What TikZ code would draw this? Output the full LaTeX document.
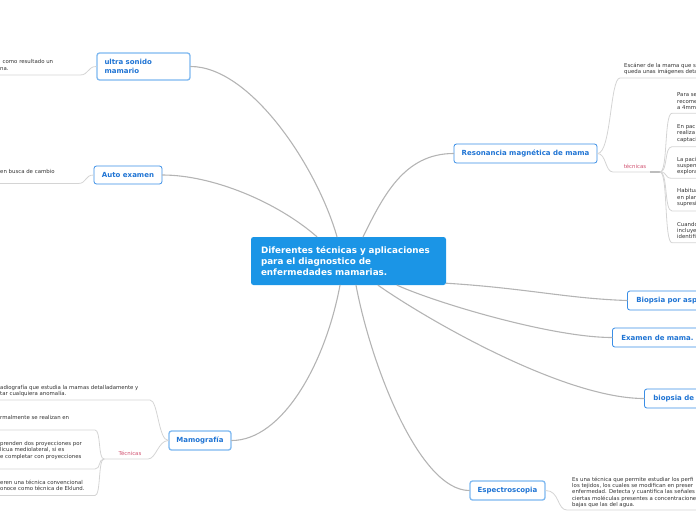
\documentclass[tikz,border=0pt]{standalone}
\usepackage{fontspec}
\setmainfont{DejaVu Sans}
\definecolor{hubblue}{HTML}{1B95E6}
\definecolor{topicblue}{HTML}{1F74D4}
\definecolor{rimblue}{HTML}{3A8EE6}
\definecolor{rimpale}{HTML}{7DB8F0}
\definecolor{linkgrey}{HTML}{B4B4B4}
\definecolor{twiggrey}{HTML}{D4D4D4}
\definecolor{stubgrey}{HTML}{BDBDBD}
\definecolor{labelred}{HTML}{D0506F}
\definecolor{notegrey}{HTML}{333333}
\tikzset{
  hub/.style={fill=hubblue, rounded corners=2.5pt, text=white, font=\fontsize{8.8}{11}\selectfont\bfseries, align=left, text width=175pt, inner xsep=10pt, inner ysep=0pt, minimum height=48pt},
  topic/.style={draw=rimblue, line width=0.8pt, fill=white, rounded corners=2.5pt, text=topicblue, font=\fontsize{7}{9}\selectfont\bfseries, inner sep=0pt, minimum height=19pt},
  pale/.style={draw=rimpale, line width=1.3pt},
  note/.style={font=\fontsize{5.4}{6.4}\selectfont, text=notegrey, align=left, inner sep=0pt, anchor=north west},
  tag/.style={font=\fontsize{5.4}{6}\selectfont, text=labelred, inner sep=0pt},
  link/.style={draw=linkgrey, line width=1.1pt},
  twig/.style={draw=twiggrey, line width=0.8pt}
}
\begin{document}
\begin{tikzpicture}[x=1pt,y=-1pt,line cap=round,line join=round]
\useasboundingbox (0,0) rectangle (696,520);
\clip (0,0) rectangle (696,520);
% central topic
\node[hub] (hub) at (348.5,261) {Diferentes técnicas y aplicaciones\\para el diagnostico de\\enfermedades mamarias.};
% main topics
\node[topic,pale,align=left,text width=78pt,inner xsep=7.5pt,minimum height=27pt] (ultra) at (143.5,66.5) {ultra sonido\\mamario};
\node[topic,minimum width=68pt,minimum height=18pt] (auto) at (128,175) {Auto examen};
\node[topic,pale,minimum width=62pt] (mamo) at (200,440.5) {Mamografía};
\node[topic,minimum width=143pt] (reso) at (525.5,153.5) {Resonancia magnética de mama};
\node[topic,anchor=west,align=left,inner xsep=9pt,text width=72pt] (aspi) at (627,300.5) {Biopsia por asp};
\node[topic,anchor=west,align=left,inner xsep=9pt,text width=80pt] (exam) at (612,337.5) {Examen de mama.};
\node[topic,anchor=west,align=left,inner xsep=9pt,text width=60pt] (gang) at (644,398.5) {biopsia de g};
\node[topic,pale,minimum width=75pt] (espe) at (507.5,490.5) {Espectroscopia};
% links from the centre
\draw[link] ([xshift=-11.5pt]hub.north) .. controls +(-20,-70) and +(60,0) .. (ultra.east);
\draw[link] ([xshift=-31.5pt]hub.north) .. controls +(-40,-35) and +(50,0) .. (auto.east);
\draw[link] ([xshift=14.5pt]hub.north) .. controls +(20,-40) and +(-50,0) .. (reso.west);
\draw[link] ([yshift=2pt]hub.south east) .. controls +(80,5) and +(-60,-2) .. (aspi.west);
\draw[link] ([xshift=48.5pt]hub.south) .. controls +(40,18) and +(-60,0) .. (exam.west);
\draw[link] ([xshift=29.5pt]hub.south) .. controls +(50,35) and +(-80,0) .. (gang.west);
\draw[link] ([xshift=7.5pt]hub.south) .. controls +(15,80) and +(-50,0) .. (espe.west);
\draw[link] ([xshift=-8.5pt]hub.south) .. controls +(-15,80) and +(50,0) .. (mamo.east);
% ultra sonido / auto examen
\node[note] (un) at (0,59.5) {\hspace*{2.5pt}como resultado un\\na.};
\coordinate (unu) at (80,75);
\draw[twig] (ultra.west) .. controls +(-9,0) and +(9,0) .. (unu) -- ++(-81,0);
\node[note] (an) at (0,169.5) {en busca de cambio};
\coordinate (anu) at (78,183.5);
\draw[twig] (auto.west) .. controls +(-9,0) and +(9,0) .. (anu) -- ++(-79,0);
% mamografia
\node[note] (m1) at (0,384.5) {adiografía que estudia la mamas detalladamente y\\tar cualquiera anomalía.};
\coordinate (m1u) at (150,400);
\draw[twig] (mamo.west) .. controls +(-10,0) and +(8,0) .. (m1u) -- ++(-151,0);
\node[tag] (mt) at (130,453) {Técnicas};
\coordinate (mtu) at (148,459);
\coordinate (mj) at (104,459);
\draw[twig] (mamo.west) .. controls +(-10,0) and +(8,0) .. (mtu) -- (mj);
\foreach \t/\u/\txt [count=\i] in {415.5/430/{rmalmente se realizan en},441/469/{prenden dos proyecciones por\\licua mediolateral, si es\\e completar con proyecciones},480/495.5/{eren una técnica convencional\\onoce como técnica de Eklund.}}{
  \node[note] (mn\i) at (0,\t) {\txt};
  \coordinate (mu\i) at (95,\u);
  \draw[twig] (mj) .. controls +(-6,0) and +(6,0) .. (mu\i) -- ++(-96,0);
}
% resonancia
\node[note] (r0) at (624,62.5) {Escáner de la mama que s\\queda unas imágenes deta};
\coordinate (r0u) at (620,78);
\draw[twig] (reso.east) .. controls +(14,0) and +(-10,0) .. (r0u) -- ++(77,0);
\node[tag] (rt) at (635,166) {técnicas};
\coordinate (rtu) at (613,172);
\coordinate (rj) at (660,172);
\draw[twig] (reso.east) .. controls +(9,0) and +(-8,0) .. (rtu) -- (650,172);
\draw[stubgrey,line width=2pt,line cap=butt] (650,172) -- (rj);
\foreach \t/\u/\la/\lb/\lc [count=\i] in {92.5/113.3/Para se/recome/a 4mm, 124.2/146.7/En pac/realiza/captaci, 156.8/178.3/La paci/suspen/explora, 188.5/211/Habitua/en plan/supresi, 221.8/242.7/Cuando/incluye/identifi}{
  \node[note] (rn\i) at (677,\t) {\la\\\lb\\\lc};
  \coordinate (ru\i) at (672,\u);
  \draw[twig] (rj) .. controls +(8,0) and +(-8,0) .. (ru\i) -- ++(26,0);
}
% espectroscopia
\node[note] (en) at (572,476.5) {Es una técnica que permite estudiar los perfi\\los tejidos, los cuales se modifican en preser\\enfermedad. Detecta y cuantifica las señales\\ciertas moléculas presentes a concentracione\\bajas que las del agua.};
\coordinate (enu) at (567,510);
\draw[twig] (espe.east) .. controls +(14,0) and +(-10,0) .. (enu) -- ++(130,0);
\end{tikzpicture}
\end{document}
